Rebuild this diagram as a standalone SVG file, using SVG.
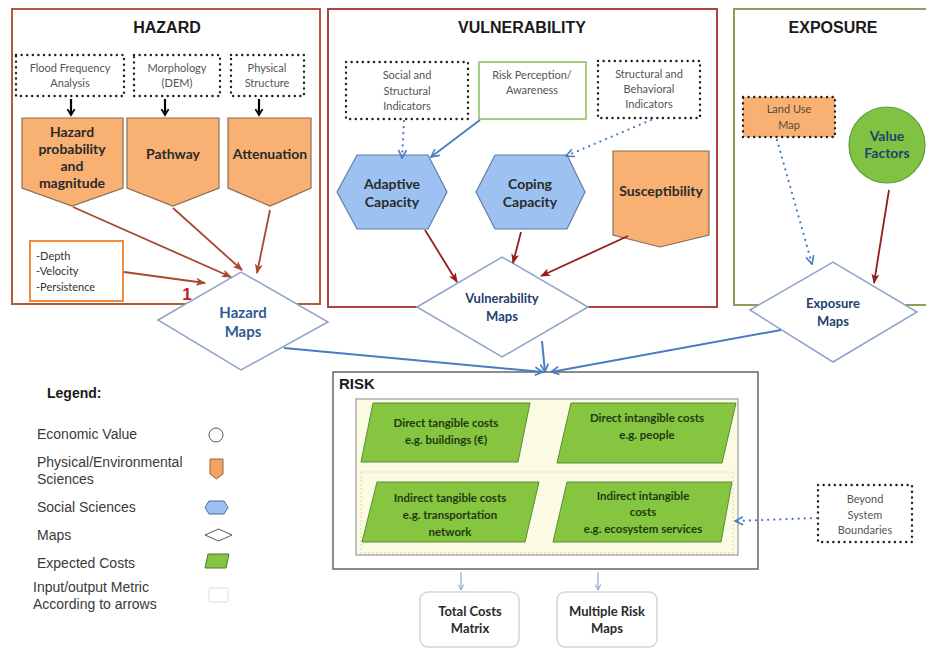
<svg xmlns="http://www.w3.org/2000/svg" width="926" height="649" viewBox="0 0 926 649">
<defs>
<marker id="mBlk" viewBox="0 0 10 10" refX="8" refY="5" markerWidth="9" markerHeight="9" orient="auto" markerUnits="userSpaceOnUse" overflow="visible">
<path d="M1.5,1 L8,5 L1.5,9" fill="none" stroke="#000" stroke-width="2"/>
</marker>
<marker id="mBrn" viewBox="0 0 10 10" refX="9" refY="5" markerWidth="10" markerHeight="10" orient="auto" markerUnits="userSpaceOnUse">
<path d="M0,1 L10,5 L0,9 L2.5,5 Z" fill="#a8482c"/>
</marker>
<marker id="mRed" viewBox="0 0 10 10" refX="9" refY="5" markerWidth="10" markerHeight="10" orient="auto" markerUnits="userSpaceOnUse">
<path d="M0,1 L10,5 L0,9 L2.5,5 Z" fill="#971c1c"/>
</marker>
<marker id="mBlu" viewBox="0 0 10 10" refX="9" refY="5" markerWidth="10" markerHeight="10" orient="auto" markerUnits="userSpaceOnUse">
<path d="M1,1 L9,5 L1,9" fill="none" stroke="#4a7cc0" stroke-width="1.6"/>
</marker>
<marker id="mBluS" viewBox="0 0 10 10" refX="9" refY="5" markerWidth="7" markerHeight="7" orient="auto" markerUnits="userSpaceOnUse">
<path d="M1,1 L9,5 L1,9" fill="none" stroke="#7a9fd0" stroke-width="1.4"/>
</marker>
</defs>
<style>
.title{font-family:"Liberation Sans",Arial,sans-serif;font-weight:bold;font-size:16px;fill:#1a1a1a;text-anchor:middle}
.small{font-family:Lato,"Liberation Sans",sans-serif;font-size:11px;fill:#555;text-anchor:middle}
.bold{font-family:Lato,"Liberation Sans",sans-serif;font-weight:bold;font-size:14px;fill:#2a2a2a;text-anchor:middle}
.maptx{font-family:Lato,"Liberation Sans",sans-serif;font-weight:bold;font-size:13px;fill:#24406e;text-anchor:middle}
.cost{font-family:Lato,"Liberation Sans",sans-serif;font-weight:bold;font-size:11.5px;fill:#1f3a12;text-anchor:middle}
.leg{font-family:"Liberation Sans",Arial,sans-serif;font-size:14px;fill:#3a3a3a}
.dot{fill:#fff;stroke:#222;stroke-width:2.4;stroke-dasharray:0.1 5.5;stroke-linecap:round}
.pent{fill:#f9b173;stroke:#8a6d55;stroke-width:1.2}
.hex{fill:#9dc1f0;stroke:#5e7ea8;stroke-width:1.2}
.dia{fill:#fff;stroke:#8fa5c8;stroke-width:1.5}
.par{fill:#86c540;stroke:#5b8a3a;stroke-width:1}
.brn{fill:none;stroke:#a8482c;stroke-width:1.8;marker-end:url(#mBrn)}
.red{fill:none;stroke:#971c1c;stroke-width:1.8;marker-end:url(#mRed)}
.blu{fill:none;stroke:#4a7cc0;stroke-width:2;marker-end:url(#mBlu)}
.bdot{fill:none;stroke:#4a7cc0;stroke-width:2.2;stroke-dasharray:0.1 6;stroke-linecap:round;marker-end:url(#mBlu)}
.blk{fill:none;stroke:#000;stroke-width:2.2;marker-end:url(#mBlk)}
</style>
<rect width="926" height="649" fill="#fff"/>

<!-- Panels -->
<g id="hazard-panel">
<rect x="12" y="9" width="308" height="295" fill="#fff" stroke="#b35a3c" stroke-width="2"/>
<text class="title" x="167" y="33">HAZARD</text>
</g>
<g id="vulnerability-panel">
<rect x="328" y="9" width="389" height="298" fill="#fff" stroke="#a8453f" stroke-width="2"/>
<text class="title" x="522" y="33">VULNERABILITY</text>
</g>
<g id="exposure-panel">
<rect x="734" y="9" width="200" height="296" fill="#fff" stroke="#8d9d5c" stroke-width="2"/>
<text class="title" x="833" y="33">EXPOSURE</text>
</g>

<!-- Hazard inputs -->
<g id="flood-frequency">
<rect class="dot" x="16" y="55" width="108" height="41"/>
<text class="small" x="70" y="72">Flood Frequency</text>
<text class="small" x="70" y="87">Analysis</text>
</g>
<g id="morphology">
<rect class="dot" x="134" y="55" width="86" height="41"/>
<text class="small" x="177" y="72">Morphology</text>
<text class="small" x="177" y="87">(DEM)</text>
</g>
<g id="physical-structure">
<rect class="dot" x="231" y="55" width="73" height="41"/>
<text class="small" x="267" y="72">Physical</text>
<text class="small" x="267" y="87">Structure</text>
</g>
<g id="hazard-probability">
<path class="pent" d="M22,118 H123 V188 L72,206 L22,188 Z"/>
<text class="bold" x="72" y="137">Hazard</text>
<text class="bold" x="72" y="154">probability</text>
<text class="bold" x="72" y="171">and</text>
<text class="bold" x="72" y="188">magnitude</text>
</g>
<g id="pathway">
<path class="pent" d="M127,118 H219 V188 L173,206 L127,188 Z"/>
<text class="bold" x="173" y="159">Pathway</text>
</g>
<g id="attenuation">
<path class="pent" d="M228,118 H311 V188 L270,206 L228,188 Z"/>
<text class="bold" x="270" y="159">Attenuation</text>
</g>
<g id="depth-box">
<rect x="30" y="241" width="93" height="60" fill="#fff" stroke="#f08a3c" stroke-width="2"/>
<text class="small" x="36" y="260" style="text-anchor:start;fill:#333">-Depth</text>
<text class="small" x="36" y="275" style="text-anchor:start;fill:#333">-Velocity</text>
<text class="small" x="36" y="291" style="text-anchor:start;fill:#333">-Persistence</text>
</g>
<g id="hazard-maps">
<path class="dia" d="M158,320 L241,272 L328,322 L241,370 Z"/>
<text class="maptx" x="243" y="318" style="font-size:15px;fill:#2f5a94">Hazard</text>
<text class="maptx" x="243" y="337" style="font-size:15px;fill:#2f5a94">Maps</text>
<text x="187" y="300" style="font-family:'Liberation Sans',Arial,sans-serif;font-weight:bold;font-size:17px;fill:#c0202a;text-anchor:middle">1</text>
</g>

<!-- Vulnerability nodes -->
<g id="social-structural">
<rect class="dot" x="346" y="62" width="122" height="57"/>
<text class="small" x="407" y="79">Social and</text>
<text class="small" x="407" y="95">Structural</text>
<text class="small" x="407" y="110">Indicators</text>
</g>
<g id="risk-perception">
<rect x="479" y="62" width="107" height="57" fill="#fff" stroke="#8bbd5a" stroke-width="1.5"/>
<text class="small" x="532" y="79">Risk Perception/</text>
<text class="small" x="532" y="94">Awareness</text>
</g>
<g id="structural-behavioral">
<rect class="dot" x="598" y="61" width="102" height="57"/>
<text class="small" x="649" y="78">Structural and</text>
<text class="small" x="649" y="93">Behavioral</text>
<text class="small" x="649" y="108">Indicators</text>
</g>
<g id="adaptive-capacity">
<path class="hex" d="M357,155 H428 L447,192 L428,229 H357 L337,192 Z"/>
<text class="bold" x="392" y="189">Adaptive</text>
<text class="bold" x="392" y="207">Capacity</text>
</g>
<g id="coping-capacity">
<path class="hex" d="M495,155 H567 L585,192 L567,229 H495 L476,192 Z"/>
<text class="bold" x="530" y="189">Coping</text>
<text class="bold" x="530" y="207">Capacity</text>
</g>
<g id="susceptibility">
<path class="pent" d="M613,151 H709 V235 L660,247 L613,235 Z"/>
<text class="bold" x="661" y="196">Susceptibility</text>
</g>
<g id="vulnerability-maps">
<path class="dia" d="M417,307 L502,257 L588,307 L502,357 Z"/>
<text class="maptx" x="502" y="303">Vulnerability</text>
<text class="maptx" x="502" y="321">Maps</text>
</g>

<!-- Exposure nodes -->
<g id="land-use-map">
<rect x="743" y="97" width="92" height="40" fill="#f9b173" stroke="#222" stroke-width="2.4" stroke-dasharray="0.1 5.5" stroke-linecap="round"/>
<text class="small" x="789" y="113" style="fill:#5a4a3a">Land Use</text>
<text class="small" x="789" y="129" style="fill:#5a4a3a">Map</text>
</g>
<g id="value-factors">
<circle cx="887" cy="145" r="38" fill="#80c342" stroke="#5c9a3c" stroke-width="1.2"/>
<text class="maptx" x="887" y="141" style="font-size:14px">Value</text>
<text class="maptx" x="887" y="158" style="font-size:14px">Factors</text>
</g>
<g id="exposure-maps">
<path class="dia" d="M750,310 L833,262 L917,312 L833,362 Z"/>
<text class="maptx" x="833" y="308">Exposure</text>
<text class="maptx" x="833" y="326">Maps</text>
</g>

<!-- Risk -->
<g id="risk">
<rect x="333" y="372" width="425" height="197" fill="#fff" stroke="#666" stroke-width="1.5"/>
<text x="339" y="389" style="font-family:'Liberation Sans',Arial,sans-serif;font-weight:bold;font-size:15px;fill:#1a1a1a">RISK</text>
<rect x="356" y="399" width="382" height="156" fill="#fbfbe4" stroke="#9a9a9a" stroke-width="1.2"/>
<rect x="361" y="472" width="372" height="81" fill="none" stroke="#d6d6b8" stroke-width="1" stroke-dasharray="2 2"/>
</g>
<g id="direct-tangible">
<path class="par" d="M373,403 H530 L518,462 H361 Z"/>
<text class="cost" x="446" y="427">Direct tangible costs</text>
<text class="cost" x="446" y="444">e.g. buildings (€)</text>
</g>
<g id="direct-intangible">
<path class="par" d="M571,403 H736 L722,463 H557 Z"/>
<text class="cost" x="647" y="422">Direct intangible costs</text>
<text class="cost" x="647" y="439">e.g. people</text>
</g>
<g id="indirect-tangible">
<path class="par" d="M377,482 H539 L525,542 H362 Z"/>
<text class="cost" x="450" y="502">Indirect tangible costs</text>
<text class="cost" x="450" y="519">e.g. transportation</text>
<text class="cost" x="450" y="536">network</text>
</g>
<g id="indirect-intangible">
<path class="par" d="M567,482 H732 L721,542 H553 Z"/>
<text class="cost" x="643" y="500">Indirect intangible</text>
<text class="cost" x="643" y="516">costs</text>
<text class="cost" x="643" y="533">e.g. ecosystem services</text>
</g>
<g id="beyond-system">
<rect class="dot" x="818" y="485" width="94" height="57"/>
<text class="small" x="865" y="503">Beyond</text>
<text class="small" x="865" y="519">System</text>
<text class="small" x="865" y="534">Boundaries</text>
</g>
<g id="total-costs">
<rect x="420" y="592" width="99" height="55" rx="8" fill="#fff" stroke="#cfd5e4" stroke-width="1.5"/>
<text class="bold" x="470" y="616" style="font-size:13px">Total Costs</text>
<text class="bold" x="470" y="633" style="font-size:13px">Matrix</text>
</g>
<g id="multiple-risk-maps">
<rect x="557" y="592" width="100" height="55" rx="8" fill="#fff" stroke="#cfd5e4" stroke-width="1.5"/>
<text class="bold" x="607" y="616" style="font-size:13px">Multiple Risk</text>
<text class="bold" x="607" y="633" style="font-size:13px">Maps</text>
</g>

<!-- Connectors -->
<g id="connectors">
<path class="blk" d="M71,99 V115"/>
<path class="blk" d="M165,99 V115"/>
<path class="blk" d="M259,99 V115"/>
<path class="brn" d="M73,207 L231,277"/>
<path class="brn" d="M173,208 L242,270"/>
<path class="brn" d="M270,210 L257,273"/>
<path class="brn" d="M124,272 L205,283"/>
<path class="bdot" d="M404,121 L402,158"/>
<path class="blu" d="M480,120 L431,157" style="stroke-width:1.8"/>
<path class="bdot" d="M651,120 L566,156"/>
<path class="red" d="M425,230 L457,282"/>
<path class="red" d="M521,232 L513,263"/>
<path class="red" d="M628,236 L541,276"/>
<path class="bdot" d="M777,140 L812,264"/>
<path class="red" d="M889,190 L874,283"/>
<path class="blu" d="M284,348 L543,372"/>
<path class="blu" d="M542,341 L545,372"/>
<path class="blu" d="M781,330 L551,372"/>
<path class="bdot" d="M817,518 L735,521"/>
<path d="M461,572 V590" fill="none" stroke="#8aaad6" stroke-width="1.2" marker-end="url(#mBluS)"/>
<path d="M598,572 V590" fill="none" stroke="#8aaad6" stroke-width="1.2" marker-end="url(#mBluS)"/>
</g>

<!-- Legend -->
<g id="legend">
<text x="47" y="398" style="font-family:'Liberation Sans',Arial,sans-serif;font-weight:bold;font-size:14px;fill:#1a1a1a">Legend:</text>
<text class="leg" x="37" y="439">Economic Value</text>
<circle cx="216" cy="435" r="7" fill="#fff" stroke="#555" stroke-width="1"/>
<text class="leg" x="37" y="467">Physical/Environmental</text>
<text class="leg" x="37" y="484">Sciences</text>
<path d="M210,459 H223 V474 L216.5,479 L210,474 Z" fill="#f9a25c" stroke="#8a6d55" stroke-width="1"/>
<text class="leg" x="37" y="512">Social Sciences</text>
<path d="M209,501 H224 L228,507.5 L224,514 H209 L205,507.5 Z" fill="#9dc1f0" stroke="#4a6a98" stroke-width="1"/>
<text class="leg" x="37" y="540">Maps</text>
<path d="M205,535 L218.5,529 L232,535 L218.5,541 Z" fill="#fff" stroke="#555" stroke-width="1"/>
<text class="leg" x="37" y="568">Expected Costs</text>
<path d="M208,554 H229 L226,568 H205 Z" fill="#86c540" stroke="#4a7a2a" stroke-width="1"/>
<text class="leg" x="33" y="592">Input/output Metric</text>
<text class="leg" x="33" y="609">According to arrows</text>
<rect x="209" y="588" width="19" height="14" rx="2" fill="#fff" stroke="#ddd" stroke-width="1"/>
</g>
</svg>
